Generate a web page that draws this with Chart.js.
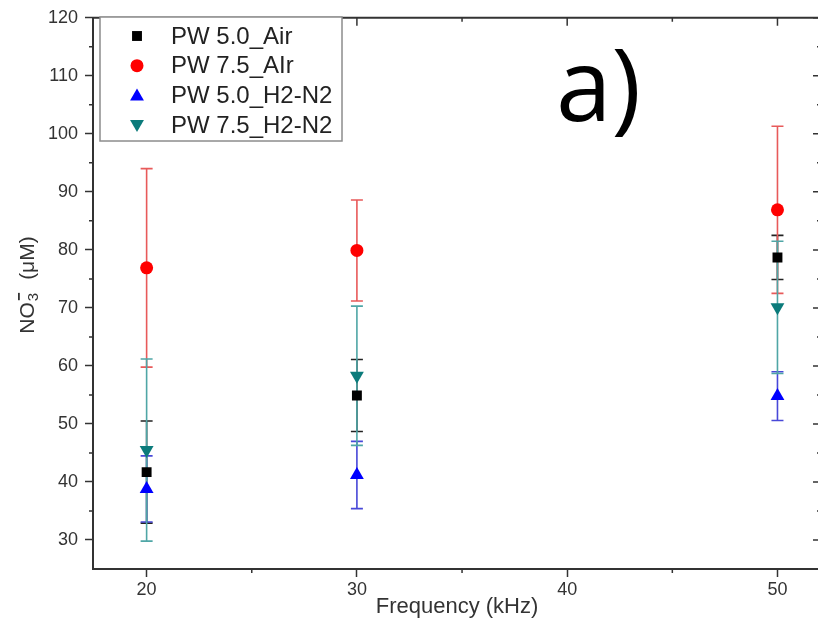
<!DOCTYPE html>
<html>
<head>
<meta charset="utf-8">
<script src="https://cdn.jsdelivr.net/npm/chart.js@4.4.1/dist/chart.umd.min.js"></script>
<style>
  html, body { margin: 0; padding: 0; background: #fff; overflow: hidden; }
  #wrap { width: 818px; height: 629px; overflow: hidden; position: relative; }
  #chart { position: absolute; left: 0; top: 0; }
</style>
</head>
<body>
<div id="wrap"><canvas id="chart" width="829" height="629"></canvas></div>
<script>
// data
const frequencies = [20, 30, 50];
const labels = ['PW 5.0_Air', 'PW 7.5_AIr', 'PW 5.0_H2-N2', 'PW 7.5_H2-N2'];
const pw50Air = [41.7, 54.9, 78.7];
const pw50AirErr = [8.8, 6.2, 3.8];
const pw75Air = [76.9, 79.9, 86.9];
const pw75AirErr = [17.1, 8.7, 14.4];
const pw50H2 = [38.8, 41.2, 54.8];
const pw50H2Err = [5.7, 5.8, 4.2];
const pw75H2 = [45.5, 58.3, 70.1];
const pw75H2Err = [15.7, 12.0, 11.4];

const xTicks = [20, 30, 40, 50];
const xMinorTicks = [25, 35, 45];
const yTicks = [30, 40, 50, 60, 70, 80, 90, 100, 110, 120];
const yMinorTicks = [35, 45, 55, 65, 75, 85, 95, 105, 115];

const axisColor = '#333';
const font = '"Liberation Sans", Arial, sans-serif';
const series = [
  {label: labels[0], y: pw50Air, err: pw50AirErr, color: '#000000', errColor: '#222222', style: 'rect', radius: 7, rot: 0},
  {label: labels[1], y: pw75Air, err: pw75AirErr, color: '#ff0000', errColor: '#e85a5a', style: 'circle', radius: 6.5, rot: 0},
  {label: labels[2], y: pw50H2, err: pw50H2Err, color: '#0000ff', errColor: '#4848d8', style: 'triangle', radius: 8, rot: 0},
  {label: labels[3], y: pw75H2, err: pw75H2Err, color: '#0b7b7b', errColor: '#4fa6a6', style: 'triangle', radius: 8, rot: 180}
];

function marker(ctx, style, x, y, r, rot, color) {
  ctx.save();
  ctx.fillStyle = color;
  ctx.beginPath();
  if (style === 'rect') {
    const s = r * Math.SQRT1_2;
    ctx.rect(x - s, y - s, 2 * s, 2 * s);
  } else if (style === 'circle') {
    ctx.arc(x, y, r, 0, Math.PI * 2);
  } else {
    const d = rot ? -1 : 1;
    ctx.moveTo(x, y - d * r);
    ctx.lineTo(x + r * 0.866, y + d * r / 2);
    ctx.lineTo(x - r * 0.866, y + d * r / 2);
    ctx.closePath();
  }
  ctx.fill();
  ctx.restore();
}

const errorBars = {
  id: 'errorBars',
  beforeDatasetsDraw(chart) {
    const ctx = chart.ctx, xs = chart.scales.x, ys = chart.scales.y;
    ctx.save();
    ctx.lineWidth = 1.6;
    series.forEach(s => {
      ctx.strokeStyle = s.errColor;
      frequencies.forEach((f, j) => {
        const x = xs.getPixelForValue(f);
        const top = ys.getPixelForValue(s.y[j] + s.err[j]);
        const bot = ys.getPixelForValue(s.y[j] - s.err[j]);
        ctx.beginPath();
        ctx.moveTo(x, top); ctx.lineTo(x, bot);
        ctx.moveTo(x - 6, top); ctx.lineTo(x + 6, top);
        ctx.moveTo(x - 6, bot); ctx.lineTo(x + 6, bot);
        ctx.stroke();
      });
    });
    ctx.restore();
  }
};

const frame = {
  id: 'frame',
  afterDraw(chart) {
    const ctx = chart.ctx, a = chart.chartArea, xs = chart.scales.x, ys = chart.scales.y;
    ctx.save();
    ctx.strokeStyle = axisColor;
    ctx.lineWidth = 2;
    ctx.beginPath();
    ctx.moveTo(a.left - 1, a.top); ctx.lineTo(a.right, a.top);
    ctx.moveTo(a.right, a.top); ctx.lineTo(a.right, a.bottom);
    ctx.stroke();
    ctx.lineWidth = 1.5;
    ctx.beginPath();
    // minor outward ticks
    xMinorTicks.forEach(v => {
      const x = xs.getPixelForValue(v);
      ctx.moveTo(x, a.bottom); ctx.lineTo(x, a.bottom + 4);
      ctx.moveTo(x, a.top); ctx.lineTo(x, a.top + 4);
    });
    yMinorTicks.forEach(v => {
      const y = ys.getPixelForValue(v);
      ctx.moveTo(a.left, y); ctx.lineTo(a.left - 4, y);
      ctx.moveTo(a.right, y); ctx.lineTo(a.right - 4, y);
    });
    // inward major ticks on top and right
    xTicks.forEach(v => {
      const x = xs.getPixelForValue(v);
      ctx.moveTo(x, a.top); ctx.lineTo(x, a.top + 8);
    });
    yTicks.forEach(v => {
      const y = ys.getPixelForValue(v);
      ctx.moveTo(a.right, y); ctx.lineTo(a.right - 8, y);
    });
    ctx.stroke();

    // y axis title: NO3- (μM)
    ctx.fillStyle = axisColor;
    ctx.translate(28, 285);
    ctx.rotate(-Math.PI / 2);
    ctx.textBaseline = 'middle';
    ctx.textAlign = 'left';
    ctx.font = '21px ' + font;
    const wNO = ctx.measureText('NO').width;
    const wUnit = ctx.measureText('(\u03bcM)').width;
    ctx.font = '15px ' + font;
    const w3 = ctx.measureText('3').width;
    const total = wNO + w3 + 14 + wUnit;
    const x0 = -total / 2;
    ctx.font = '21px ' + font;
    ctx.fillText('NO', x0, 0);
    ctx.fillText('(\u03bcM)', x0 + wNO + w3 + 14, 0);
    ctx.font = '15px ' + font;
    ctx.fillText('3', x0 + wNO + 1, 6);
    ctx.fillRect(x0 + wNO + 2, -10, w3 - 1, 1.8);
    ctx.restore();

    // legend box
    ctx.save();
    ctx.fillStyle = '#fff';
    ctx.fillRect(100, 17, 242, 124);
    ctx.strokeStyle = '#8c8c8c';
    ctx.lineWidth = 1.5;
    ctx.strokeRect(100, 17, 242, 124);
    ctx.font = '24px ' + font;
    ctx.textBaseline = 'middle';
    series.forEach((s, i) => {
      const y = 36 + i * 29.7;
      const r = s.style === 'rect' ? 7 : (s.style === 'circle' ? 6.5 : 8);
      marker(ctx, s.style, 137, y + (s.style === 'triangle' ? (s.rot ? -1 : 1) : 0), r, s.rot, s.color);
      ctx.fillStyle = '#222';
      ctx.fillText(s.label, 171, y + 1);
    });
    ctx.restore();

    // panel tag
    ctx.save();
    ctx.fillStyle = '#000';
    ctx.font = '100px "Open Sans", sans-serif';
    ctx.textBaseline = 'alphabetic';
    ctx.fillText('a)', 556, 121);
    ctx.restore();
  }
};

const datasets = series.map(s => ({
  label: s.label,
  data: frequencies.map((f, j) => ({x: f, y: s.y[j]})),
  backgroundColor: s.color,
  borderColor: s.color,
  borderWidth: 0,
  pointStyle: s.style,
  pointRadius: s.radius,
  pointRotation: s.rot,
  showLine: false
}));

const chart = new Chart(document.getElementById('chart').getContext('2d'), {
  type: 'scatter',
  data: { datasets: datasets },
  options: {
    responsive: false,
    animation: false,
    layout: { padding: { top: 15.5, right: 2, left: 0, bottom: 0 } },
    plugins: { legend: { display: false }, tooltip: { enabled: false } },
    scales: {
      x: {
        type: 'linear',
        min: 17.45,
        max: 52.07,
        afterBuildTicks: scale => { scale.ticks = xTicks.map(v => ({value: v})); },
        afterFit: scale => { scale.height = 60; scale.paddingLeft = 0; scale.paddingRight = 0; },
        ticks: { color: axisColor, padding: 2, font: { size: 18, family: font } },
        grid: { drawOnChartArea: false, tickLength: 8, tickColor: axisColor, tickWidth: 1.5 },
        border: { color: axisColor, width: 2 },
        title: { display: true, text: 'Frequency (kHz)', color: axisColor,
                 font: { size: 22, family: font }, padding: { top: 0, bottom: 9 } }
      },
      y: {
        type: 'linear',
        min: 25,
        max: 120,
        afterBuildTicks: scale => { scale.ticks = yTicks.map(v => ({value: v})); },
        afterFit: scale => { scale.width = 93; },
        ticks: { color: axisColor, padding: 7, font: { size: 18, family: font } },
        grid: { drawOnChartArea: false, tickLength: 8, tickColor: axisColor, tickWidth: 1.5 },
        border: { color: axisColor, width: 2 }
      }
    }
  },
  plugins: [errorBars, frame]
});
</script>
</body>
</html>
